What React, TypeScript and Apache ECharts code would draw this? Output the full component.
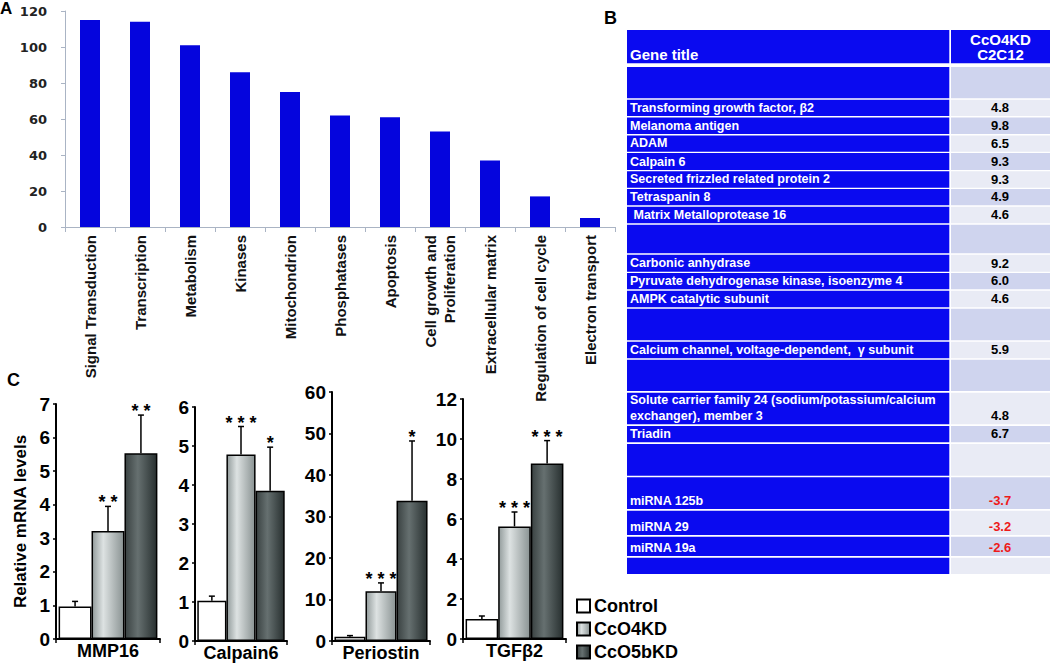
import React, { useEffect, useRef } from "react";
import * as echarts from "echarts";

// ---------- Panel A data ----------
const categoriesA = [
  "Signal Transduction",
  "Transcription",
  "Metabolism",
  "Kinases",
  "Mitochondrion",
  "Phosphatases",
  "Apoptosis",
  "Cell growth and\nProliferation",
  "Extracellular matrix",
  "Regulation of cell cycle",
  "Electron transport",
];
const countsA = [115, 114, 101, 86, 75, 62, 61, 53, 37, 17, 5];

// ---------- Panel B data ----------
const tableHeaderLeft = "Gene title";
const tableHeaderRight = "CcO4KD\nC2C12";
const geneTitles = [
  "",
  "Transforming growth factor, β2",
  "Melanoma antigen",
  "ADAM",
  "Calpain 6",
  "Secreted frizzled related protein 2",
  "Tetraspanin 8",
  " Matrix Metalloprotease 16",
  "",
  "Carbonic anhydrase",
  "Pyruvate dehydrogenase kinase, isoenzyme 4",
  "AMPK catalytic subunit",
  "",
  "Calcium channel, voltage-dependent,  γ subunit",
  "",
  "Solute carrier family 24 (sodium/potassium/calcium\nexchanger), member 3",
  "Triadin",
  "",
  "miRNA 125b",
  "miRNA 29",
  "miRNA 19a",
  "",
];
const geneFoldChanges: (number | null)[] = [
  null, 4.8, 9.8, 6.5, 9.3, 9.3, 4.9, 4.6, null, 9.2, 6.0, 4.6, null, 5.9, null, 4.8, 6.7, null, -3.7, -3.2, -2.6, null,
];

// ---------- Panel C data ----------
const genesC = ["MMP16", "Calpain6", "Periostin", "TGFβ2"];
const groupNames = ["Control", "CcO4KD", "CcO5bKD"];
const controlMean = [0.97, 1.03, 1.0, 1.0];
const controlErr = [1.12, 1.15, 1.3, 1.15];
const cco4Mean = [3.22, 4.78, 12.0, 5.63];
const cco4Err = [3.95, 5.5, 14.0, 6.35];
const cco5Mean = [5.53, 3.85, 33.8, 8.78];
const cco5Err = [6.67, 4.97, 48.2, 9.92];
const cco4Stars = ["* *", "* * *", "* * *", "* * *"];
const cco5Stars = ["* *", "*", "*", "* * *"];
const yMaxC = [7, 6, 60, 12];
const yStepC = [1, 1, 10, 2];

// ---------- layout (not data) ----------
const FONT = "Liberation Sans, Arial, sans-serif";
const gridsC = [
  { left: 56, top: 404, width: 104, height: 235 },
  { left: 195, top: 407, width: 92, height: 234 },
  { left: 332, top: 392, width: 98, height: 249 },
  { left: 463, top: 399, width: 103, height: 240 },
];
const rowBounds: [number, number][] = [
  [67, 98.3], [99.7, 116], [117.5, 134], [135.5, 151.7], [153, 170], [171.3, 187.7],
  [189, 205.3], [206.7, 223.3], [224.7, 253.3], [254.7, 271.7], [273, 289.3], [290.7, 307.3],
  [308.7, 340.3], [341.7, 358.3], [359.7, 391], [392.7, 424.3], [426, 442.3], [444, 475.7],
  [477.3, 509], [510.7, 535], [536.7, 556], [557.7, 574],
];
const TBL_L = 627, TBL_LW = 322.3, TBL_R = 951, TBL_RW = 99;
const BLUE = "#0a0af0";
const GAP = 0.05;

function buildTable(): any[] {
  const els: any[] = [];
  els.push({ type: "rect", shape: { x: TBL_L, y: 30, width: TBL_LW, height: 33.3 }, style: { fill: BLUE } });
  els.push({ type: "rect", shape: { x: TBL_R, y: 30, width: TBL_RW, height: 33.3 }, style: { fill: BLUE } });
  els.push({
    type: "text", x: 630, y: 62,
    style: { text: tableHeaderLeft, fill: "#fff", font: `bold 15px ${FONT}`, textAlign: "left", textVerticalAlign: "bottom", align: "left", verticalAlign: "bottom" },
  });
  els.push({
    type: "text", x: TBL_R + TBL_RW / 2, y: 47,
    style: { text: tableHeaderRight, fill: "#fff", font: `bold 15px ${FONT}`, lineHeight: 15, textAlign: "center", textVerticalAlign: "middle", align: "center", verticalAlign: "middle" },
  });
  rowBounds.forEach(([t, b], i) => {
    const h = b - t;
    els.push({ type: "rect", shape: { x: TBL_L, y: t, width: TBL_LW, height: h }, style: { fill: BLUE } });
    els.push({ type: "rect", shape: { x: TBL_R, y: t, width: TBL_RW, height: h }, style: { fill: i % 2 === 0 ? "#cfd4ee" : "#e9ebf5" } });
    const title = geneTitles[i];
    if (title) {
      els.push({
        type: "text", x: 630, y: b - 0.5,
        style: { text: title, fill: "#fff", font: `bold 12.5px ${FONT}`, lineHeight: 16, textAlign: "left", textVerticalAlign: "bottom", align: "left", verticalAlign: "bottom" },
      });
    }
    const v = geneFoldChanges[i];
    if (v !== null) {
      els.push({
        type: "text", x: 1000, y: b - 0.5,
        style: { text: v.toFixed(1), fill: v < 0 ? "#ee1a1a" : "#000", font: `bold 13px ${FONT}`, lineHeight: 16, textAlign: "center", textVerticalAlign: "bottom", align: "center", verticalAlign: "bottom" },
      });
    }
  });
  return els;
}

const greyGrad = () =>
  new echarts.graphic.LinearGradient(0, 0, 1, 0, [
    { offset: 0, color: "#939c9c" },
    { offset: 0.35, color: "#dde2e2" },
    { offset: 1, color: "#8a9393" },
  ]);
const darkGrad = () =>
  new echarts.graphic.LinearGradient(0, 0, 1, 0, [
    { offset: 0, color: "#3a4242" },
    { offset: 0.4, color: "#667070" },
    { offset: 1, color: "#283030" },
  ]);

function buildOption(): any {
  const grid: any[] = [{ left: 65, top: 11, width: 550, height: 216 }, ...gridsC];
  const xAxis: any[] = [
    {
      gridIndex: 0, type: "category", data: categoriesA,
      axisLine: { lineStyle: { color: "#aab4c4", width: 1 } },
      axisTick: { show: true, length: 5, lineStyle: { color: "#aab4c4" } },
      axisLabel: { rotate: 90, interval: 0, margin: 8, fontFamily: FONT, fontWeight: "bold", fontSize: 15, color: "#111", lineHeight: 19 },
    },
  ];
  const yAxis: any[] = [
    {
      gridIndex: 0, type: "value", min: 0, max: 120, interval: 20,
      axisLine: { show: true, lineStyle: { color: "#aab4c4" } },
      axisTick: { show: true, length: 4, lineStyle: { color: "#aab4c4" } },
      splitLine: { show: false },
      axisLabel: { margin: 18, fontFamily: "DejaVu Sans", fontWeight: "bold", fontSize: 13, color: "#222" },
    },
  ];
  const series: any[] = [
    { type: "bar", xAxisIndex: 0, yAxisIndex: 0, data: countsA, barWidth: "40%", itemStyle: { color: "#0505dd" } },
  ];
  genesC.forEach((g, i) => {
    const gi = i + 1;
    xAxis.push({
      gridIndex: gi, type: "category", data: [g],
      axisLine: { lineStyle: { color: "#000", width: 2 } },
      axisTick: { show: true, length: 4, lineStyle: { color: "#000", width: 1.5 } },
      axisLabel: { margin: 3, fontFamily: FONT, fontWeight: "bold", fontSize: 18, color: "#000" },
    });
    const ya: any = {
      gridIndex: gi, type: "value", min: 0, max: yMaxC[i], interval: yStepC[i],
      axisLine: { show: true, lineStyle: { color: "#000", width: 2 } },
      axisTick: { show: true, length: 3, lineStyle: { color: "#000", width: 1.5 } },
      splitLine: { show: false },
      axisLabel: { margin: 6, fontFamily: FONT, fontWeight: "bold", fontSize: 19, color: "#000" },
    };
    if (i === 0) {
      ya.name = "Relative mRNA levels";
      ya.nameLocation = "middle";
      ya.nameGap = 27;
      ya.nameTextStyle = { fontFamily: FONT, fontWeight: "bold", fontSize: 17, color: "#000" };
    }
    yAxis.push(ya);
    const means = [controlMean[i], cco4Mean[i], cco5Mean[i]];
    const errs = [controlErr[i], cco4Err[i], cco5Err[i]];
    const stars = ["", cco4Stars[i], cco5Stars[i]];
    const colors = ["#ffffff", greyGrad(), darkGrad()];
    groupNames.forEach((name, k) => {
      series.push({
        type: "bar", name, xAxisIndex: gi, yAxisIndex: gi, data: [means[k]],
        barGap: "0%", barCategoryGap: `${GAP * 100}%`,
        itemStyle: { color: colors[k], borderColor: "#000", borderWidth: 1.5 },
      });
    });
    series.push({
      type: "custom", xAxisIndex: gi, yAxisIndex: gi, z: 5,
      data: means.map((m, k) => [0, m, errs[k], k]),
      encode: { x: 0, y: 2 },
      renderItem: (params: any, api: any) => {
        const k = api.value(3);
        const base = api.coord([0, api.value(1)]);
        const topPt = api.coord([0, api.value(2)]);
        const band = api.size([1, 0])[0];
        const inner = band * (1 - GAP);
        const bw = inner / 3;
        const cx = base[0] - inner / 2 + bw * (k + 0.5);
        const children: any[] = [
          { type: "line", shape: { x1: cx, y1: base[1], x2: cx, y2: topPt[1] }, style: { stroke: "#000", lineWidth: 1.5 } },
          { type: "line", shape: { x1: cx - 3, y1: topPt[1], x2: cx + 3, y2: topPt[1] }, style: { stroke: "#000", lineWidth: 1.5 } },
        ];
        const s = stars[k];
        if (s) {
          children.push({
            type: "text", x: cx, y: topPt[1] - 4,
            style: { text: s, fill: "#000", font: `bold 18px ${FONT}`, textAlign: "center", textVerticalAlign: "middle", align: "center", verticalAlign: "middle" },
          });
        }
        return { type: "group", children };
      },
    });
  });

  const graphicEls: any[] = [
    { type: "text", x: 0, y: 0, style: { text: "A", fill: "#000", font: `bold 17px ${FONT}` } },
    { type: "text", x: 604, y: 9, style: { text: "B", fill: "#000", font: `bold 18px ${FONT}` } },
    { type: "text", x: 7, y: 371, style: { text: "C", fill: "#000", font: `bold 18px ${FONT}` } },
    ...buildTable(),
  ];

  return {
    animation: false,
    backgroundColor: "#ffffff",
    textStyle: { fontFamily: FONT },
    legend: {
      data: groupNames, orient: "vertical", left: 576, top: 597,
      itemWidth: 13, itemHeight: 13, itemGap: 5, padding: 0, selectedMode: false,
      icon: "rect",
      textStyle: { fontFamily: FONT, fontWeight: "bold", fontSize: 18, color: "#000", padding: [0, 0, 0, -1] },
    },
    grid, xAxis, yAxis, series,
    graphic: { elements: graphicEls },
  };
}

export default function App() {
  const ref = useRef<HTMLDivElement>(null);
  useEffect(() => {
    document.body.style.margin = "0";
    if (!ref.current) return;
    const chart = echarts.init(ref.current, null, { renderer: "svg" });
    chart.setOption(buildOption());
    return () => chart.dispose();
  }, []);
  return <div ref={ref} style={{ position: "absolute", left: 0, top: 0, width: 1050, height: 663 }} />;
}
